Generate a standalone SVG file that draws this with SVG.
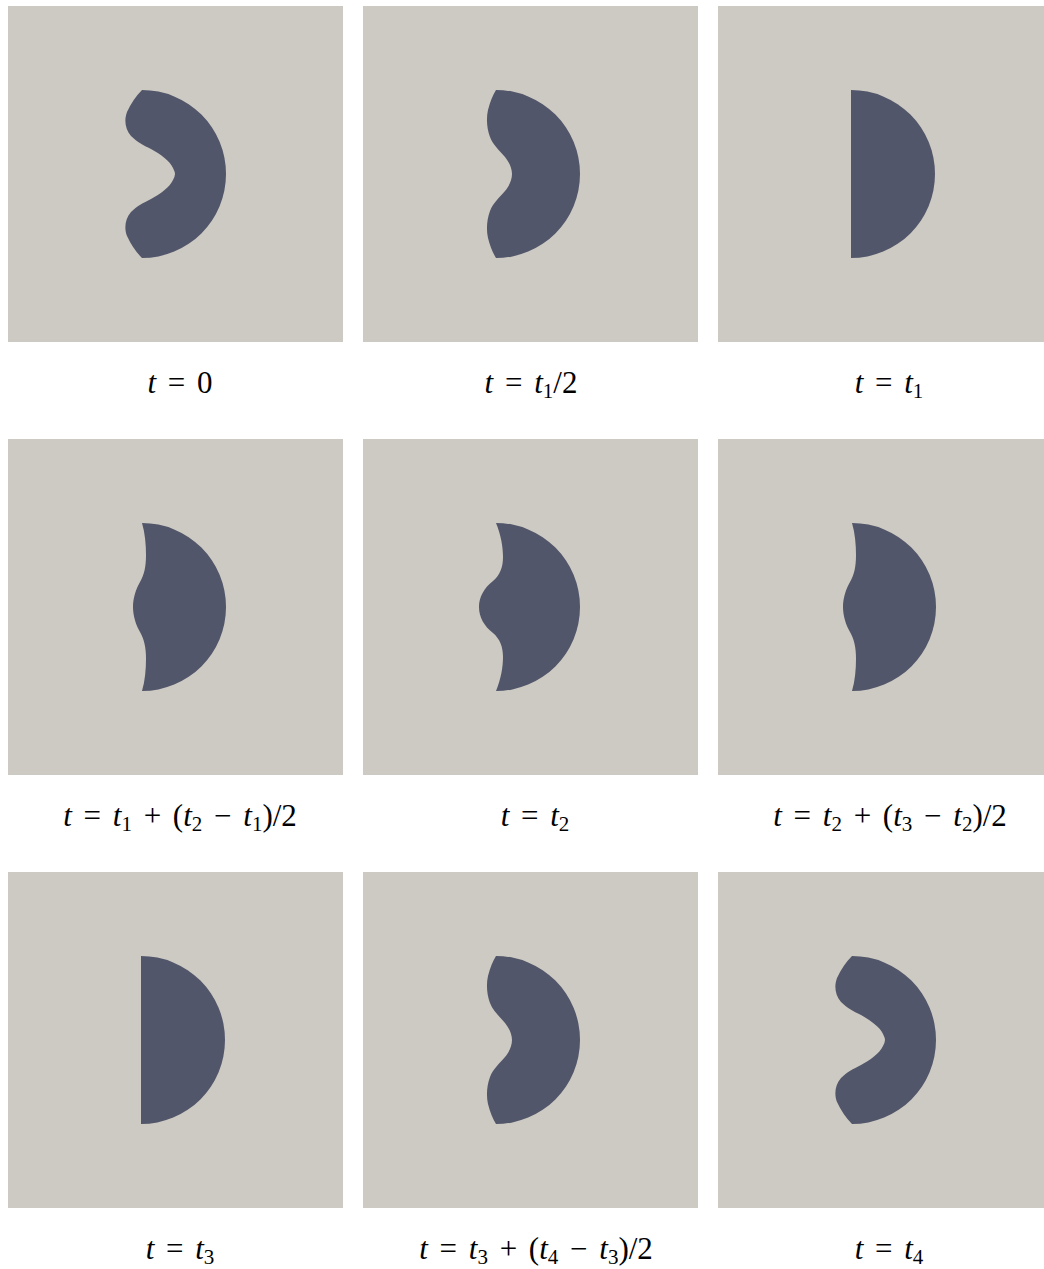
<svg xmlns="http://www.w3.org/2000/svg" xmlns:xlink="http://www.w3.org/1999/xlink" width="1044" height="1269" viewBox="0 0 1044 1269">
<style>
.bg{fill:#cdcac3}
.sh{fill:#52566a}
.lbl{font-size:31px;fill:#000;text-anchor:middle;word-spacing:4px}
.i{font-style:italic}
.s{font-size:21px}
</style>
<defs>
<path id="kidney" d="M0,-84 A84,84 0 0 1 0,84 Q-9,75 -15,62 C-18,54 -17,45 -11,38 C-5,32 1,29 9,25 C18,20 28,13 31,6 Q33,2 33,0 Q33,-2 31,-6 C28,-13 18,-20 9,-25 C1,-29 -5,-32 -11,-38 C-17,-45 -18,-54 -15,-62 Q-9,-75 0,-84 Z"/>
<path id="kidney2" d="M0,-84 A84,84 0 0 1 0,84 Q-5,76 -8,64 C-10,55 -9,45 -6,37 C-3,29 4,23 9,17 C13,12 16,6 16,0 C16,-6 13,-12 9,-17 C4,-23 -3,-29 -6,-37 C-9,-45 -10,-55 -8,-64 Q-5,-76 0,-84 Z"/>
<path id="dshape" d="M0,-84 A84,84 0 0 1 0,84 Z"/>
<path id="bulge1" d="M0,-84 A84,84 0 0 1 0,84 C3,74 4,62 4,52 C4,40 2,32 -2,25 C-6,18 -9,9 -9,0 C-9,-9 -6,-18 -2,-25 C2,-32 4,-40 4,-52 C4,-62 3,-74 0,-84 Z"/>
<path id="bulge2" d="M0,-84 A84,84 0 0 1 0,84 C5,72 7,60 7,50 C7,40 4,32 -3,26 C-12,19 -17,10 -17,0 C-17,-10 -12,-19 -3,-26 C4,-32 7,-40 7,-50 C7,-60 5,-72 0,-84 Z"/>
</defs>

<g font-family="Liberation Serif, Times New Roman, serif">
<g id="panel1">
<rect class="bg" x="8" y="6" width="335" height="336"/>
<use class="sh" xlink:href="#kidney" href="#kidney" transform="translate(142,174)"/>
<text class="lbl" x="180" y="393"><tspan class="i">t</tspan> = 0</text>
</g>
<g id="panel2">
<rect class="bg" x="363" y="6" width="335" height="336"/>
<use class="sh" xlink:href="#kidney2" href="#kidney2" transform="translate(496,174)"/>
<text class="lbl" x="531" y="393"><tspan class="i">t</tspan> = <tspan class="i">t</tspan><tspan class="s" dy="5">1</tspan><tspan dy="-5">/2</tspan></text>
</g>
<g id="panel3">
<rect class="bg" x="718" y="6" width="335" height="336"/>
<use class="sh" xlink:href="#dshape" href="#dshape" transform="translate(851,174)"/>
<text class="lbl" x="889" y="393"><tspan class="i">t</tspan> = <tspan class="i">t</tspan><tspan class="s" dy="5">1</tspan></text>
</g>

<g id="panel4">
<rect class="bg" x="8" y="439" width="335" height="336"/>
<use class="sh" xlink:href="#bulge1" href="#bulge1" transform="translate(142,607)"/>
<text class="lbl" x="180" y="826"><tspan class="i">t</tspan> = <tspan class="i">t</tspan><tspan class="s" dy="5">1</tspan><tspan dy="-5"> + (</tspan><tspan class="i">t</tspan><tspan class="s" dy="5">2</tspan><tspan dy="-5"> − </tspan><tspan class="i">t</tspan><tspan class="s" dy="5">1</tspan><tspan dy="-5">)/2</tspan></text>
</g>
<g id="panel5">
<rect class="bg" x="363" y="439" width="335" height="336"/>
<use class="sh" xlink:href="#bulge2" href="#bulge2" transform="translate(496,607)"/>
<text class="lbl" x="535" y="826"><tspan class="i">t</tspan> = <tspan class="i">t</tspan><tspan class="s" dy="5">2</tspan></text>
</g>
<g id="panel6">
<rect class="bg" x="718" y="439" width="335" height="336"/>
<use class="sh" xlink:href="#bulge1" href="#bulge1" transform="translate(852,607)"/>
<text class="lbl" x="890" y="826"><tspan class="i">t</tspan> = <tspan class="i">t</tspan><tspan class="s" dy="5">2</tspan><tspan dy="-5"> + (</tspan><tspan class="i">t</tspan><tspan class="s" dy="5">3</tspan><tspan dy="-5"> − </tspan><tspan class="i">t</tspan><tspan class="s" dy="5">2</tspan><tspan dy="-5">)/2</tspan></text>
</g>

<g id="panel7">
<rect class="bg" x="8" y="872" width="335" height="336"/>
<use class="sh" xlink:href="#dshape" href="#dshape" transform="translate(141,1040)"/>
<text class="lbl" x="180" y="1259"><tspan class="i">t</tspan> = <tspan class="i">t</tspan><tspan class="s" dy="5">3</tspan></text>
</g>
<g id="panel8">
<rect class="bg" x="363" y="872" width="335" height="336"/>
<use class="sh" xlink:href="#kidney2" href="#kidney2" transform="translate(496,1040)"/>
<text class="lbl" x="536" y="1259"><tspan class="i">t</tspan> = <tspan class="i">t</tspan><tspan class="s" dy="5">3</tspan><tspan dy="-5"> + (</tspan><tspan class="i">t</tspan><tspan class="s" dy="5">4</tspan><tspan dy="-5"> − </tspan><tspan class="i">t</tspan><tspan class="s" dy="5">3</tspan><tspan dy="-5">)/2</tspan></text>
</g>
<g id="panel9">
<rect class="bg" x="718" y="872" width="335" height="336"/>
<use class="sh" xlink:href="#kidney" href="#kidney" transform="translate(852,1040)"/>
<text class="lbl" x="889" y="1259"><tspan class="i">t</tspan> = <tspan class="i">t</tspan><tspan class="s" dy="5">4</tspan></text>
</g>
</g>

<g id="connectors"/>
</svg>
